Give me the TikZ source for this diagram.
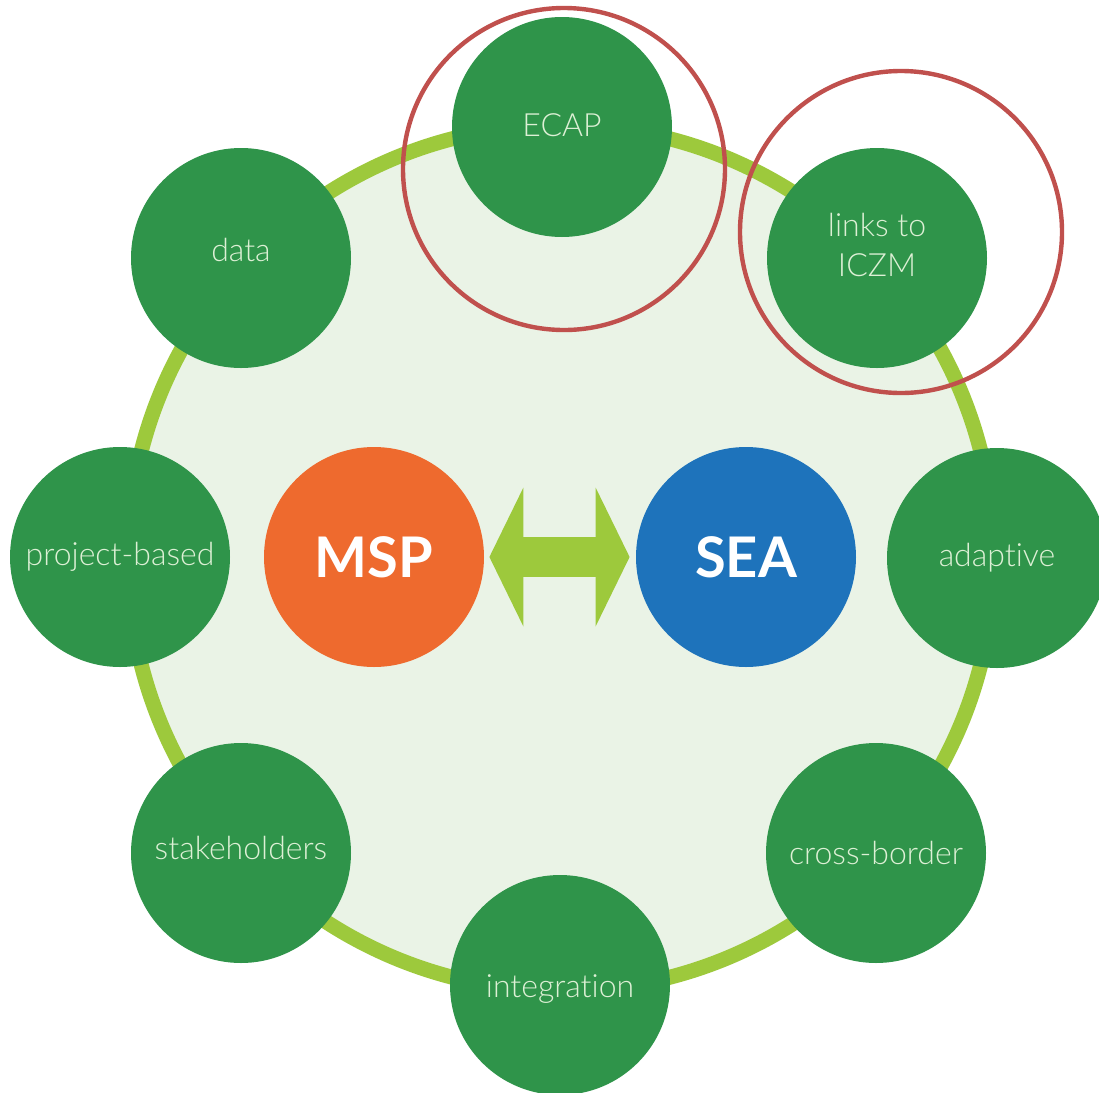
\documentclass[tikz,border=0pt]{standalone}
\usepackage{fontspec}
\setmainfont{Lato}[Ligatures=NoCommon]
\newfontfamily\topicfont{Lato Light}[Ligatures=NoCommon]
\usepackage{tikz}
\usetikzlibrary{arrows.meta, positioning}
\definecolor{ringlime}{HTML}{9DC93C}
\definecolor{ringfill}{HTML}{EAF3E6}
\definecolor{topicgreen}{HTML}{2F944A}
\definecolor{topictext}{HTML}{DDF0D5}
\definecolor{msporange}{HTML}{EE6A2E}
\definecolor{seablue}{HTML}{1E73BB}
\definecolor{markred}{HTML}{C0504D}
\newcommand{\lift}[2]{\raisebox{#1}[\height][\depth]{#2}}

\begin{document}
\begin{tikzpicture}[x=0.5pt, y=-0.5pt,
  topic/.style={circle, fill=topicgreen, text=topictext, minimum size=110pt, inner sep=0pt, align=center, font=\topicfont\fontsize{16}{20}\selectfont},
  core/.style={circle, minimum size=110pt, inner sep=0pt, text=white, font=\fontsize{28}{32}\selectfont\bfseries},
  highlight/.style={draw=markred, line width=2.2pt}]
\clip (0,0) rectangle (1099,1093);
\fill[white] (0,0) rectangle (1099,1093);
\draw[draw=ringlime, fill=ringfill, line width=7.5pt] (561,558) circle[radius=433];
\node[topic] (ecap) at (562,127) {\lift{1pt}{ECAP}};
\node[topic] (iczm) at (877,258) {\lift{5pt}{\begin{tabular}{@{}c@{}}links to\\ICZM\end{tabular}}};
\node[topic] (adaptive) at (997,558) {adaptive};
\node[topic] (border) at (876,853) {cross-border};
\node[topic] (integration) at (560,985) {\lift{-2pt}{integration}};
\node[topic] (stakeholders) at (241,853) {\lift{2.5pt}{stakeholders}};
\node[topic] (project) at (120,557) {project-based};
\node[topic] (data) at (241,258) {\lift{4pt}{data}};
\node[core, fill=msporange] (msp) at (374,557) {MSP};
\node[core, fill=seablue] (sea) at (746,557) {SEA};
\draw[ringlime, line width=20pt, {Triangle[length=17pt, width=69.5pt, line width=0pt]}-{Triangle[length=17pt, width=69.5pt, line width=0pt]}, shorten <=2.5pt, shorten >=3pt] (msp) -- (sea);
\draw[highlight] (ecap.center) ++(2,42) circle[radius=161];
\draw[highlight] (iczm.center) ++(24,-26) circle[radius=161];
\end{tikzpicture}
\end{document}
